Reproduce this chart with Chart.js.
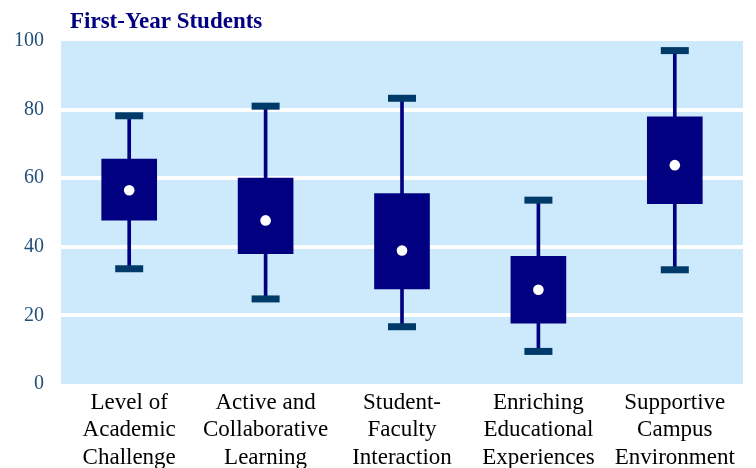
<!DOCTYPE html>
<html>
<head>
<meta charset="utf-8">
<script src="https://cdn.jsdelivr.net/npm/chart.js@4.4.1/dist/chart.umd.min.js"></script>
<style>
  html, body { margin: 0; padding: 0; background: #fff; overflow: hidden; }
  #wrap { width: 756px; height: 468px; }
</style>
</head>
<body>
<div id="wrap"><canvas id="graf"></canvas></div>
<script>
// data
var kategorie = [
  ["Level of", "Academic", "Challenge"],
  ["Active and", "Collaborative", "Learning"],
  ["Student-", "Faculty", "Interaction"],
  ["Enriching", "Educational", "Experiences"],
  ["Supportive", "Campus", "Environment"]
];
var minima = [33.6, 24.8, 16.7, 9.5, 33.3];
var q1 = [47.8, 38, 27.7, 17.7, 52.6];
var medianu = [56.5, 47.7, 38.9, 27.5, 63.8];
var q3 = [65.6, 60, 55.5, 37.2, 77.9];
var maxima = [78.2, 81, 83.3, 53.6, 97.2];
var yTicks = [0, 20, 40, 60, 80, 100];

var boxy = [];
var vousy = [];
for (var i = 0; i < kategorie.length; i++) {
  boxy.push([q1[i], q3[i]]);
  vousy.push([minima[i], maxima[i]]);
}

// pozadí + nadpis
var pozadi = {
  id: "pozadi",
  beforeDraw: function (chart) {
    var c = chart.ctx, a = chart.chartArea;
    c.save();
    c.fillStyle = "#cdeafd";
    c.fillRect(a.left, a.top, a.right - a.left, a.bottom - a.top);
    c.restore();
  },
  afterDraw: function (chart) {
    var c = chart.ctx;
    c.save();
    c.fillStyle = "#000080";
    c.font = "bold 23px 'Liberation Serif'";
    c.textBaseline = "alphabetic";
    c.fillText("First-Year Students", 70, 28);
    c.restore();
  }
};

var graf = document.getElementById("graf").getContext("2d");
var SF = new Chart(graf, {
  type: "bar",
  data: {
    labels: kategorie,
    datasets: [
      {
        label: "median",
        type: "line",
        data: medianu,
        showLine: false,
        pointStyle: "circle",
        pointRadius: 5.3,
        pointBackgroundColor: "#ffffff",
        pointBorderWidth: 0,
        order: 0
      },
      {
        label: "box",
        data: boxy,
        backgroundColor: "#000080",
        borderWidth: 0,
        barThickness: 55,
        grouped: false,
        order: 1
      },
      {
        label: "max",
        type: "line",
        data: maxima,
        showLine: false,
        pointStyle: "line",
        pointRadius: 14,
        pointBorderWidth: 7,
        pointBorderColor: "#003a68",
        order: 2
      },
      {
        label: "min",
        type: "line",
        data: minima,
        showLine: false,
        pointStyle: "line",
        pointRadius: 14,
        pointBorderWidth: 7,
        pointBorderColor: "#003a68",
        order: 2
      },
      {
        label: "vousy",
        data: vousy,
        backgroundColor: "#000080",
        borderWidth: 0,
        barThickness: 3,
        grouped: false,
        order: 3
      }
    ]
  },
  options: {
    responsive: true,
    maintainAspectRatio: false,
    animation: false,
    layout: { autoPadding: false, padding: { top: 41, right: 13, left: 0, bottom: 0 } },
    plugins: {
      legend: { display: false },
      tooltip: { enabled: false },
      title: { display: false }
    },
    scales: {
      x: {
        offset: true,
        grid: { display: false, drawTicks: false },
        border: { display: false },
        afterFit: function (s) {
          s.height = 84;
          s.paddingLeft = 0;
          s.paddingRight = 0;
        },
        ticks: {
          color: "#000000",
          padding: 5,
          maxRotation: 0,
          autoSkip: false,
          font: { family: "'Liberation Serif'", size: 23, lineHeight: 1.2 }
        }
      },
      y: {
        min: 0,
        max: 100,
        afterFit: function (s) {
          s.width = 61;
          s.paddingTop = 0;
          s.paddingBottom = 0;
        },
        afterBuildTicks: function (s) {
          s.ticks = yTicks.map(function (v) { return { value: v }; });
        },
        grid: {
          drawTicks: false,
          lineWidth: 4,
          color: function (ctx) {
            var v = ctx.tick ? ctx.tick.value : 0;
            return v == 0 || v == 100 ? "rgba(0,0,0,0)" : "#ffffff";
          }
        },
        border: { display: false },
        ticks: {
          color: "#24507a",
          padding: 17,
          font: { family: "'Liberation Serif'", size: 20 }
        }
      }
    }
  },
  plugins: [pozadi]
});
</script>
</body>
</html>
